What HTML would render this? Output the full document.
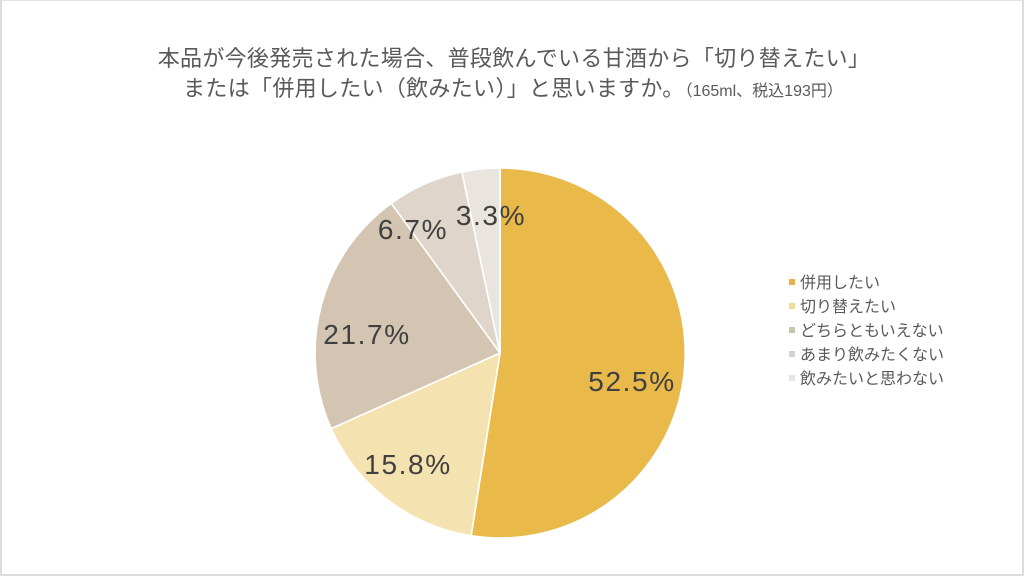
<!DOCTYPE html>
<html>
<head>
<meta charset="utf-8">
<style>
html,body{margin:0;padding:0;background:#fff;}
body{width:1024px;height:576px;overflow:hidden;position:relative;}
.frame{position:absolute;left:0;top:0;width:1020px;height:573px;border-left:2px solid #dcdcdc;border-top:1px solid #e2e2e2;border-right:2px solid #dcdcdc;border-bottom:2px solid #dcdcdc;}
svg{position:absolute;left:0;top:0;}
</style>
</head>
<body>
<div class="frame"></div>
<svg width="1024" height="576" viewBox="0 0 1024 576" xmlns="http://www.w3.org/2000/svg">
  <g font-family="'Liberation Sans','Noto Sans CJK JP',sans-serif" fill="#595959">
    <text x="514" y="66" font-size="22" text-anchor="middle" letter-spacing="0.3">本品が今後発売された場合、普段飲んでいる甘酒から「切り替えたい」</text>
    <text x="513" y="96" font-size="22" text-anchor="middle" letter-spacing="0.3">または「併用したい（飲みたい）」と思いますか。<tspan font-size="16" letter-spacing="0">（165ml、税込193円）</tspan></text>
  </g>
  <g stroke="#ffffff" stroke-width="1.6" stroke-linejoin="round">
    <path d="M500,353 L500,168 A185,185 0 1 1 471.1,535.7 Z" fill="#e9b94a"/>
    <path d="M500,353 L471.1,535.7 A185,185 0 0 1 331.2,428.6 Z" fill="#f4e2b0"/>
    <path d="M500,353 L331.2,428.6 A185,185 0 0 1 391.3,203.3 Z" fill="#d4c5b3"/>
    <path d="M500,353 L391.3,203.3 A185,185 0 0 1 461.9,172.0 Z" fill="#dfd5ca"/>
    <path d="M500,353 L461.9,172.0 A185,185 0 0 1 500,168 Z" fill="#e9e4de"/>
  </g>
  <g font-family="'Liberation Sans',sans-serif" font-size="28" fill="#404040" text-anchor="middle" letter-spacing="1.6">
    <text x="632" y="391">52.5%</text>
    <text x="408" y="474">15.8%</text>
    <text x="367" y="344">21.7%</text>
    <text x="413" y="239">6.7%</text>
    <text x="491" y="225">3.3%</text>
  </g>
  <g font-family="'Liberation Sans','Noto Sans CJK JP',sans-serif" font-size="16" fill="#595959">
    <rect x="789" y="279" width="6" height="6" fill="#e3b04a"/>
    <text x="800" y="288">併用したい</text>
    <rect x="789" y="303" width="6" height="6" fill="#efdb9a"/>
    <text x="800" y="312">切り替えたい</text>
    <rect x="789" y="327" width="6" height="6" fill="#c9c4ae"/>
    <text x="800" y="336">どちらともいえない</text>
    <rect x="789" y="351" width="6" height="6" fill="#d2d2d2"/>
    <text x="800" y="360">あまり飲みたくない</text>
    <rect x="789" y="375" width="6" height="6" fill="#e4e4e4"/>
    <text x="800" y="384">飲みたいと思わない</text>
  </g>
</svg>
</body>
</html>
